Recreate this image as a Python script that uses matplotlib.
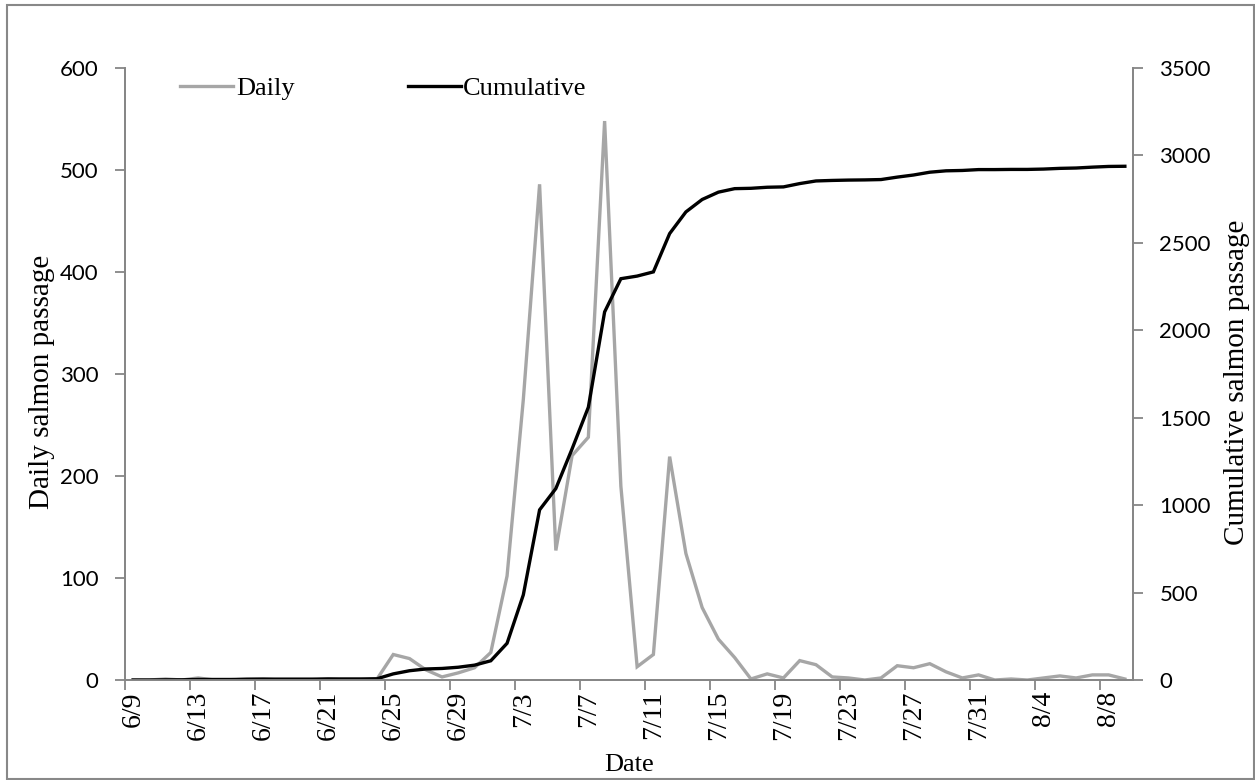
"""
Daily and cumulative salmon passage, 9 June - 9 August
"""
import datetime as dt
import matplotlib
matplotlib.use('Agg')
import matplotlib.pyplot as plt
from matplotlib.lines import Line2D
from matplotlib.patches import Rectangle

# Data (one value per day, 6/9 .. 8/9)
start_date = dt.date(2000, 6, 9)
n_days = 62
daily = [0, 0, 1, 0, 2, 0, 0, 1, 1, 0, 0, 0, 1, 0, 0, 1,
         25, 21, 10, 3, 7, 12, 27, 102, 275, 486, 127, 220, 238, 548,
         190, 13, 25, 219, 124, 71, 40, 22, 1, 6, 2, 19, 15, 3, 2, 0,
         2, 14, 12, 16, 8, 2, 5, 0, 1, 0, 2, 4, 2, 5, 5, 1]
cumulative = [0, 0, 1, 1, 3, 3, 3, 4, 5, 5, 5, 5, 6, 6, 6, 7,
              35, 53, 63, 66, 73, 85, 110, 210, 487, 973, 1095, 1322, 1560, 2105,
              2295, 2310, 2334, 2553, 2677, 2748, 2790, 2810, 2812, 2818, 2820, 2839, 2854, 2857, 2859, 2860,
              2862, 2876, 2888, 2904, 2912, 2914, 2919, 2919, 2920, 2920, 2922, 2926, 2928, 2933, 2937, 2938]
dates = [start_date + dt.timedelta(days=i) for i in range(n_days)]
date_labels = ['%d/%d' % (d.month, d.day) for d in dates]
label_every = 4

daily_ticks = [0, 100, 200, 300, 400, 500, 600]
cum_ticks = [0, 500, 1000, 1500, 2000, 2500, 3000, 3500]

gray_line = '#a6a6a6'
axis_color = '#868686'
serif = ['Liberation Serif', 'DejaVu Serif']
sans = ['Lato', 'DejaVu Sans']

fig = plt.figure(figsize=(12.55, 7.80), dpi=100)
ax = fig.add_axes([125 / 1255, 1 - 680 / 780, 1008 / 1255, 612 / 780])
ax2 = ax.twinx()

x = list(range(n_days))
l1, = ax.plot(x, daily, color=gray_line, linewidth=2.4, solid_joinstyle='miter')
l2, = ax2.plot(x, cumulative, color='black', linewidth=2.4, solid_joinstyle='miter')

ax.set_xlim(-0.5, n_days - 0.5)
ax.set_ylim(0, 600)
ax2.set_ylim(0, 3500)
ax.set_yticks(daily_ticks)
ax2.set_yticks(cum_ticks)

# category labels at every 4th day, tick marks on category boundaries
ax.set_xticks(x[::label_every])
ax.set_xticklabels(date_labels[::label_every], rotation=90, family=serif, fontsize=20)
ax.set_xticks([i - 0.5 for i in range(0, n_days, label_every)], minor=True)
ax.tick_params(axis='x', which='major', length=0, pad=8)
ax.tick_params(axis='x', which='minor', length=7, width=1.3, color=axis_color)

ax.tick_params(axis='y', length=7, width=1.3, color=axis_color, pad=12)
ax2.tick_params(axis='y', length=7, width=1.3, color=axis_color, pad=12)
for lab in ax.get_yticklabels() + ax2.get_yticklabels():
    lab.set_family(sans)
    lab.set_fontsize(16)

for a in (ax, ax2):
    a.spines['top'].set_visible(False)
    for s in ('left', 'right', 'bottom'):
        a.spines[s].set_color(axis_color)
        a.spines[s].set_linewidth(1.3)

ax.set_xlabel('Date', family=serif, fontsize=19, va='center')
ax.xaxis.set_label_coords(0.5, -0.139)
ax.set_ylabel('Daily salmon passage', family=serif, fontsize=21, va='center')
ax.yaxis.set_label_coords(-0.082, 0.487)
ax2.set_ylabel('Cumulative salmon passage', family=serif, fontsize=21, va='center', rotation=90)
ax2.yaxis.set_label_coords(1.103, 0.487)

handles = [Line2D([], [], color=gray_line, linewidth=2.4),
           Line2D([], [], color='black', linewidth=2.4)]
ax2.legend(handles, ['Daily', 'Cumulative'], loc='center left', bbox_to_anchor=(0.055, 0.967),
           ncol=2, frameon=False, prop={'family': serif, 'size': 19}, handlelength=2.0,
           handletextpad=0.1, columnspacing=4.3, borderpad=0, borderaxespad=0)

# outer chart frame
fig.patches.append(Rectangle((7 / 1255, 1 / 780), 1247 / 1255, 774 / 780, transform=fig.transFigure,
                             fill=False, edgecolor='#888888', linewidth=1.5))

plt.savefig('out.png', dpi=100)
